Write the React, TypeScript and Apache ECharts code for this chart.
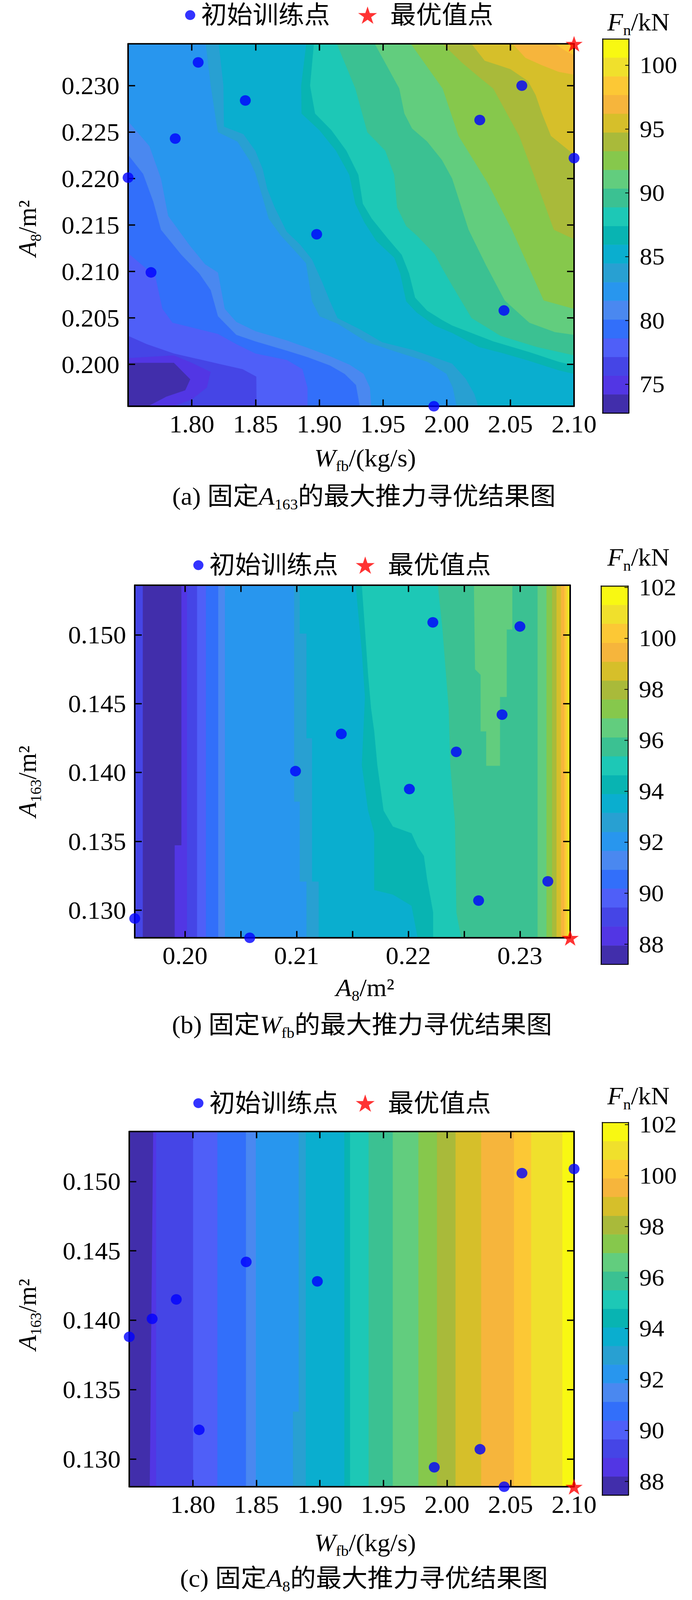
import React, { useEffect, useRef } from 'react';
import * as echarts from 'echarts';

// ---------------- data ----------------
const W_RANGE = [1.75, 2.1];
const A8_RANGE = [0.1955, 0.2345];
const A163_RANGE = [0.128, 0.1536];

const wTicks = [1.8, 1.85, 1.9, 1.95, 2.0, 2.05, 2.1];
const a8Ticks = [0.2, 0.205, 0.21, 0.215, 0.22, 0.225, 0.23];
const a8LabelsB = [0.2, 0.21, 0.22, 0.23];
const a163Ticks = [0.13, 0.135, 0.14, 0.145, 0.15];
const cbarTicksA = [75, 80, 85, 90, 95, 100];
const cbarTicksB = [88, 90, 92, 94, 96, 98, 100, 102];
const cbarTicksC = [88, 90, 92, 94, 96, 98, 100, 102];

// training points (W_fb, A8, A163) and optimum
const trainW = [1.805, 1.842, 1.787, 1.75, 1.898, 1.768, 1.99, 2.026, 2.059, 2.1, 2.045];
const trainA8 = [0.2325, 0.2284, 0.2243, 0.2201, 0.214, 0.2099, 0.1955, 0.2263, 0.23, 0.2222, 0.2058];
const trainA163 = [0.1321, 0.1442, 0.1415, 0.1388, 0.1428, 0.1401, 0.1294, 0.1307, 0.1506, 0.1509, 0.128];
const optW = 2.1;
const optA8 = 0.2345;
const optA163 = 0.128;

// contour levels (kN)
const levelsA = [72.74, 74.21, 75.67, 77.14, 78.6, 80.07, 81.54, 83.0, 84.47, 85.94, 87.4, 88.87, 90.34, 91.8, 93.27, 94.73, 96.2, 97.67, 99.13, 100.6, 102.06];
const levelsB = [87.21, 87.95, 88.69, 89.44, 90.18, 90.92, 91.66, 92.4, 93.15, 93.89, 94.63, 95.37, 96.11, 96.86, 97.6, 98.34, 99.08, 99.82, 100.57, 101.31, 102.05];
const levelsC = [87.46, 88.19, 88.92, 89.65, 90.38, 91.12, 91.85, 92.58, 93.31, 94.04, 94.77, 95.5, 96.23, 96.96, 97.69, 98.42, 99.16, 99.89, 100.62, 101.35, 102.08];

// contour lines of panel (a): line k separates band k from band k+1 ([W_fb, A8])
const contourA = [
  [[1.75, 0.2002], [1.786, 0.2002], [1.799, 0.1984], [1.795, 0.1972], [1.78, 0.1965], [1.766, 0.1955]],
  [[1.75, 0.2007], [1.786, 0.201], [1.8, 0.2002], [1.815, 0.1992], [1.812, 0.1975], [1.8, 0.1962], [1.786, 0.1955]],
  [[1.75, 0.2031], [1.7647, 0.2022], [1.786, 0.2012], [1.805, 0.2006], [1.8207, 0.2001], [1.84, 0.1995], [1.8508, 0.1987], [1.851, 0.1955]],
  [[1.75, 0.212], [1.7715, 0.2095], [1.7771, 0.206], [1.785, 0.2045], [1.8, 0.204], [1.8207, 0.2033], [1.835, 0.2022], [1.85, 0.2012], [1.8746, 0.2005], [1.887, 0.1995], [1.891, 0.1975], [1.891, 0.1955]],
  [[1.75, 0.2226], [1.762, 0.2205], [1.77, 0.2175], [1.776, 0.2145], [1.792, 0.2118], [1.806, 0.2098], [1.815, 0.208], [1.8207, 0.2052], [1.835, 0.2032], [1.85, 0.2025], [1.8746, 0.2015], [1.891, 0.2008], [1.9086, 0.1999], [1.92, 0.199], [1.929, 0.1978], [1.932, 0.1955]],
  [[1.75, 0.2262], [1.7669, 0.2235], [1.776, 0.22], [1.7816, 0.216], [1.7986, 0.2128], [1.8105, 0.2108], [1.8207, 0.2099], [1.826, 0.206], [1.835, 0.2046], [1.85, 0.2036], [1.8746, 0.2026], [1.891, 0.2018], [1.9086, 0.2009], [1.9238, 0.2], [1.935, 0.199], [1.94, 0.1975], [1.941, 0.1955]],
  [[1.8111, 0.2345], [1.815, 0.23], [1.819, 0.2264], [1.8207, 0.225], [1.8359, 0.224], [1.8453, 0.222], [1.85, 0.2206], [1.8559, 0.2179], [1.8605, 0.2157], [1.8699, 0.2139], [1.8793, 0.2125], [1.8898, 0.2109], [1.8945, 0.2068], [1.9004, 0.2052], [1.9145, 0.2044], [1.9379, 0.2024], [1.9555, 0.2016], [1.985, 0.2003], [2.0, 0.199], [2.005, 0.1975], [2.008, 0.1955]],
  [[1.8213, 0.2345], [1.825, 0.23], [1.8254, 0.2256], [1.8406, 0.2248], [1.85, 0.223], [1.8559, 0.221], [1.8594, 0.2189], [1.8652, 0.2169], [1.8746, 0.2143], [1.8852, 0.2129], [1.8945, 0.2113], [1.9027, 0.2088], [1.9086, 0.2068], [1.9145, 0.205], [1.932, 0.2038], [1.9496, 0.2024], [1.9731, 0.2016], [2.0045, 0.2001], [2.015, 0.1985], [2.022, 0.1968], [2.025, 0.1955]],
  [[1.89, 0.2345], [1.886, 0.23], [1.8863, 0.227], [1.9004, 0.2252], [1.9133, 0.223], [1.9238, 0.2204], [1.9285, 0.2173], [1.9356, 0.2153], [1.9449, 0.2133], [1.959, 0.2115], [1.9637, 0.2098], [1.9684, 0.2068], [1.9766, 0.2056], [1.9906, 0.2042], [2.0045, 0.2034], [2.0253, 0.2019], [2.045, 0.2012], [2.065, 0.2004], [2.0877, 0.1994], [2.1, 0.199]],
  [[1.896, 0.2345], [1.893, 0.23], [1.8969, 0.227], [1.9098, 0.2252], [1.9215, 0.223], [1.9309, 0.2204], [1.9344, 0.2173], [1.9414, 0.2157], [1.9531, 0.2137], [1.9649, 0.2118], [1.9707, 0.2098], [1.9754, 0.2072], [1.9848, 0.2058], [1.9965, 0.2048], [2.0045, 0.2042], [2.0367, 0.2025], [2.066, 0.2013], [2.088, 0.2003], [2.1, 0.1999]],
  [[1.914, 0.2345], [1.9285, 0.2297], [1.9379, 0.225], [1.952, 0.223], [1.959, 0.2204], [1.9613, 0.2169], [1.9684, 0.2149], [1.9766, 0.2139], [1.9906, 0.2119], [1.9965, 0.2104], [2.0045, 0.2085], [2.0197, 0.205], [2.0423, 0.2031], [2.0707, 0.2019], [2.1, 0.201]],
  [[1.9438, 0.2345], [1.963, 0.2297], [1.967, 0.227], [1.973, 0.2254], [1.9848, 0.224], [1.9965, 0.222], [2.0045, 0.22], [2.0174, 0.2145], [2.031, 0.2107], [2.0457, 0.2069], [2.065, 0.2045], [2.085, 0.2035], [2.1, 0.2032]],
  [[1.9721, 0.2345], [1.997, 0.2297], [2.0095, 0.2246], [2.0321, 0.2196], [2.0514, 0.2145], [2.0763, 0.2069], [2.1, 0.206]],
  [[1.997, 0.2345], [2.012, 0.2325], [2.025, 0.231], [2.0367, 0.2297], [2.0571, 0.2246], [2.0707, 0.2196], [2.0843, 0.2145], [2.1, 0.2135]],
  [[2.0197, 0.2345], [2.03, 0.2327], [2.05, 0.2318], [2.064, 0.2305], [2.07, 0.229], [2.075, 0.227], [2.082, 0.2246], [2.1, 0.2226]],
  [[2.052, 0.2345], [2.062, 0.233], [2.075, 0.2322], [2.088, 0.2315], [2.1, 0.2312]],
  [[2.085, 0.2345], [2.093, 0.2338], [2.1, 0.2333]],
];

// contour lines of panel (b) ([A8, A163]), top to bottom
const contourB = [
  [[0.1997, 0.1536], [0.1997, 0.1347], [0.1991, 0.1347], [0.1991, 0.128]],
  [[0.2002, 0.1536], [0.2002, 0.128]],
  [[0.2011, 0.1536], [0.2011, 0.128]],
  [[0.2019, 0.1536], [0.2019, 0.128]],
  [[0.203, 0.1536], [0.203, 0.128]],
  [[0.2036, 0.1536], [0.2036, 0.128]],
  [[0.2098, 0.1536], [0.2098, 0.1379], [0.2103, 0.1379], [0.2103, 0.1321], [0.2109, 0.1321], [0.2109, 0.128]],
  [[0.2103, 0.1536], [0.2103, 0.1501], [0.2109, 0.1501], [0.2109, 0.1425], [0.2114, 0.1425], [0.2114, 0.1321], [0.212, 0.1321], [0.212, 0.128]],
  [[0.21531, 0.1536], [0.21586, 0.14877], [0.21614, 0.14547], [0.21586, 0.14054], [0.21642, 0.13724], [0.21697, 0.1356], [0.21697, 0.13148], [0.21864, 0.13115], [0.22031, 0.13033], [0.22086, 0.128]],
  [[0.21586, 0.1536], [0.21614, 0.15041], [0.21642, 0.14712], [0.21669, 0.14465], [0.21697, 0.143], [0.21725, 0.14054], [0.21753, 0.13889], [0.21781, 0.13724], [0.21864, 0.13609], [0.22031, 0.1356], [0.22086, 0.13461], [0.22142, 0.13395], [0.2217, 0.1323], [0.22225, 0.12984], [0.22225, 0.128]],
  [[0.22267, 0.1536], [0.22308, 0.15041], [0.22364, 0.14465], [0.22378, 0.14054], [0.2242, 0.13642], [0.22433, 0.12984], [0.22475, 0.128]],
  [[0.2316, 0.1536], [0.2316, 0.128]],
  [[0.2324, 0.1536], [0.2324, 0.128]],
  [[0.2329, 0.1536], [0.2329, 0.128]],
  [[0.2333, 0.1536], [0.2333, 0.128]],
  [[0.2337, 0.1536], [0.2337, 0.128]],
  [[0.234, 0.1536], [0.234, 0.128]],
  [[0.2342, 0.1536], [0.2342, 0.128]],
  [[0.2344, 0.1536], [0.2344, 0.128]],
];
// local patches of panel (b)
const islandsB = [
  { band: 2, points: [[0.1955, 0.1536], [0.1962, 0.1536], [0.1962, 0.128], [0.1955, 0.128]] },
  { band: 12, points: [[0.2259, 0.1536], [0.226, 0.1475], [0.2265, 0.1471], [0.2265, 0.143], [0.227, 0.143], [0.227, 0.1405], [0.2282, 0.1405], [0.2282, 0.1455], [0.2288, 0.1455], [0.2288, 0.1504], [0.2293, 0.1504], [0.2293, 0.1536]] },
];

// contour lines of panel (c) ([W_fb, A163]), top to bottom
const contourC = [
  [[1.769, 0.1536], [1.7663, 0.128]],
  [[1.7713, 0.1536], [1.7713, 0.128]],
  [[1.8004, 0.1536], [1.8004, 0.128]],
  [[1.8195, 0.1536], [1.8195, 0.128]],
  [[1.842, 0.1536], [1.842, 0.128]],
  [[1.8498, 0.1536], [1.8498, 0.128]],
  [[1.8835, 0.1536], [1.8835, 0.1334], [1.879, 0.1334], [1.879, 0.128]],
  [[1.8891, 0.1536], [1.8891, 0.128]],
  [[1.9194, 0.1536], [1.9194, 0.128]],
  [[1.9239, 0.1536], [1.9239, 0.128]],
  [[1.9385, 0.1536], [1.9385, 0.128]],
  [[1.9575, 0.1536], [1.9575, 0.128]],
  [[1.9777, 0.1536], [1.9777, 0.128]],
  [[1.9923, 0.1536], [1.9923, 0.128]],
  [[2.0069, 0.1536], [2.0069, 0.128]],
  [[2.0271, 0.1536], [2.0271, 0.128]],
  [[2.0529, 0.1536], [2.0529, 0.128]],
  [[2.0664, 0.1536], [2.0664, 0.128]],
  [[2.091, 0.1536], [2.091, 0.128]],
];

// ---------------- style ----------------
const BAND_COLORS = [
  '#412eab', '#5236e4', '#4545e6', '#4f5ff8', '#326ffa', '#4a88f0', '#2896ee', '#28a0d2', '#0aaecf', '#08b4b2',
  '#1dc8b6', '#3bc192', '#62cd7e', '#86c84c', '#a9ba3a', '#d6bf2a', '#f6b53c', '#fcc835', '#f0e02c', '#f8f812',
];
const SERIF = "'Liberation Serif', 'Times New Roman', serif";
const MIX = "'Liberation Serif', 'Noto Sans CJK SC', serif";
const STAR = 'path://M50,0L61.2,34.5L97.6,34.5L68.2,55.9L79.4,90.5L50,69.1L20.6,90.5L31.8,55.9L2.4,34.5L38.8,34.5Z';

// the photographed area is 4096 px high: the whole figure is compressed vertically to fit
const PAGE_W = 1772;
const PAGE_H = 4238;
const FIT_Y = 4096 / 4238;

const RICH = {
  n: { fontSize: 66, fontFamily: MIX, lineHeight: 84, verticalAlign: 'middle', color: '#000' },
  i: { fontSize: 66, fontFamily: SERIF, fontStyle: 'italic', lineHeight: 84, verticalAlign: 'middle', color: '#000' },
  s: { fontSize: 40, fontFamily: SERIF, lineHeight: 40, verticalAlign: 'bottom', color: '#000' },
};

function regionPolygon(line, xr, yr) {
  const pts = line.slice();
  const first = line[0];
  const last = line[line.length - 1];
  const eps = 1e-9;
  if (last[1] <= yr[0] + eps && last[0] < xr[1] - eps) pts.push([xr[1], yr[0]]);
  pts.push([xr[1], yr[1]]);
  if (first[0] <= xr[0] + eps && first[1] < yr[1] - eps) pts.push([xr[0], yr[1]]);
  return pts;
}

function buildPatches(lines, islands, xr, yr) {
  const patches = [{ band: 0, points: [[xr[0], yr[0]], [xr[1], yr[0]], [xr[1], yr[1]], [xr[0], yr[1]]] }];
  lines.forEach((l, k) => patches.push({ band: k + 1, points: regionPolygon(l, xr, yr) }));
  islands.forEach((p) => patches.push(p));
  return patches;
}

function buildOption() {
  const panels = [
    {
      grid: { left: 328, top: 116, width: 1142, height: 960 },
      cbar: { left: 1543, top: 103, width: 67, height: 991 },
      xr: W_RANGE, yr: A8_RANGE,
      xTicks: wTicks, xLabels: wTicks, xDigits: 2,
      yTicks: a8Ticks, yLabels: a8Ticks, yDigits: 3,
      levels: levelsA, cbarTicks: cbarTicksA,
      patches: buildPatches(contourA, [], W_RANGE, A8_RANGE),
      train: trainW.map((w, i) => [w, trainA8[i]]),
      opt: [optW, optA8],
    },
    {
      grid: { left: 345, top: 1550, width: 1115, height: 934 },
      cbar: { left: 1539, top: 1552, width: 69, height: 1002 },
      xr: A8_RANGE, yr: A163_RANGE,
      xTicks: a8Ticks, xLabels: a8LabelsB, xDigits: 2,
      yTicks: a163Ticks, yLabels: a163Ticks, yDigits: 3,
      levels: levelsB, cbarTicks: cbarTicksB,
      patches: buildPatches(contourB, islandsB, A8_RANGE, A163_RANGE),
      train: trainA8.map((a, i) => [a, trainA163[i]]),
      opt: [optA8, optA163],
    },
    {
      grid: { left: 331, top: 2997, width: 1139, height: 941 },
      cbar: { left: 1542, top: 2973, width: 67, height: 987 },
      xr: W_RANGE, yr: A163_RANGE,
      xTicks: wTicks, xLabels: wTicks, xDigits: 2,
      yTicks: a163Ticks, yLabels: a163Ticks, yDigits: 3,
      levels: levelsC, cbarTicks: cbarTicksC,
      patches: buildPatches(contourC, [], W_RANGE, A163_RANGE),
      train: trainW.map((w, i) => [w, trainA163[i]]),
      opt: [optW, optA163],
    },
  ];

  const grid = [];
  const xAxis = [];
  const yAxis = [];
  const series = [];

  const line = (w) => ({ show: true, onZero: false, lineStyle: { color: '#000', width: w } });
  const ticks = (vals, len, w) => ({ show: true, inside: true, length: len, lineStyle: { color: '#000', width: w }, customValues: vals });
  const noTick = { show: false };
  const noLabel = { show: false };
  const noSplit = { show: false };
  const lab = (vals, digits, margin, size) => ({
    show: true, customValues: vals, margin, fontSize: size, fontFamily: SERIF, color: '#000',
    formatter: (v) => Number(v).toFixed(digits),
  });

  panels.forEach((p, pi) => {
    const gMain = pi * 2;
    const gBar = pi * 2 + 1;
    grid.push({ ...p.grid, containLabel: false });
    grid.push({ ...p.cbar, containLabel: false });
    const base = pi * 4;
    xAxis.push({ type: 'value', gridIndex: gMain, position: 'bottom', min: p.xr[0], max: p.xr[1], z: 10,
      axisLine: line(4), axisTick: ticks(p.xTicks, 18, 3.5), axisLabel: lab(p.xLabels, p.xDigits, 14, 66), splitLine: noSplit });
    xAxis.push({ type: 'value', gridIndex: gMain, position: 'top', min: p.xr[0], max: p.xr[1], z: 10,
      axisLine: line(4), axisTick: ticks(p.xTicks, 18, 3.5), axisLabel: noLabel, splitLine: noSplit });
    xAxis.push({ type: 'value', gridIndex: gBar, position: 'bottom', min: 0, max: 1, z: 10,
      axisLine: line(2.5), axisTick: noTick, axisLabel: noLabel, splitLine: noSplit });
    xAxis.push({ type: 'value', gridIndex: gBar, position: 'top', min: 0, max: 1, z: 10,
      axisLine: line(2.5), axisTick: noTick, axisLabel: noLabel, splitLine: noSplit });
    yAxis.push({ type: 'value', gridIndex: gMain, position: 'left', min: p.yr[0], max: p.yr[1], z: 10,
      axisLine: line(4), axisTick: ticks(p.yTicks, 18, 3.5), axisLabel: lab(p.yLabels, p.yDigits, 22, 66), splitLine: noSplit });
    yAxis.push({ type: 'value', gridIndex: gMain, position: 'right', min: p.yr[0], max: p.yr[1], z: 10,
      axisLine: line(4), axisTick: ticks(p.yTicks, 18, 3.5), axisLabel: noLabel, splitLine: noSplit });
    const lv = p.levels;
    yAxis.push({ type: 'value', gridIndex: gBar, position: 'left', min: lv[0], max: lv[lv.length - 1], z: 10,
      axisLine: line(2.5), axisTick: noTick, axisLabel: noLabel, splitLine: noSplit });
    yAxis.push({ type: 'value', gridIndex: gBar, position: 'right', min: lv[0], max: lv[lv.length - 1], z: 10,
      axisLine: line(2.5), axisTick: ticks(p.cbarTicks, 9, 2), axisLabel: lab(p.cbarTicks, 0, 28, 64), splitLine: noSplit });

    const patches = p.patches;
    series.push({
      type: 'custom', xAxisIndex: base, yAxisIndex: base, z: 1, silent: true, clip: true,
      data: patches.map((q, i) => [q.points[0][0], q.points[0][1], i]),
      renderItem: (params, api) => {
        const q = patches[params.dataIndex];
        const pts = q.points.map((pt) => api.coord(pt));
        const c = BAND_COLORS[q.band];
        return { type: 'polygon', shape: { points: pts }, style: { fill: c, stroke: c, lineWidth: 1.2 } };
      },
    });
    series.push({
      type: 'custom', xAxisIndex: base + 2, yAxisIndex: base + 2, z: 1, silent: true,
      data: lv.slice(0, -1).map((l, i) => [0.5, l, i]),
      renderItem: (params, api) => {
        const i = params.dataIndex;
        const p0 = api.coord([0, lv[i]]);
        const p1 = api.coord([1, lv[i + 1]]);
        const c = BAND_COLORS[i];
        return { type: 'rect', shape: { x: p0[0], y: p1[1], width: p1[0] - p0[0], height: p0[1] - p1[1] },
          style: { fill: c, stroke: c, lineWidth: 0.8 } };
      },
    });
    series.push({
      type: 'scatter', name: '初始训练点', xAxisIndex: base, yAxisIndex: base, z: 20, clip: false, silent: true,
      symbol: 'circle', symbolSize: 28, itemStyle: { color: '#0000ff' }, data: p.train,
    });
    series.push({
      type: 'scatter', name: '最优值点', xAxisIndex: base, yAxisIndex: base, z: 21, clip: false, silent: true,
      symbol: STAR, symbolKeepAspect: true, symbolSize: 44, itemStyle: { color: '#ff0000' }, data: [p.opt],
    });
  });

  const legText = { fontSize: 66, fontFamily: MIX, color: '#000' };
  const legDot = (left, top) => ({ left, top, padding: 0, itemWidth: 46, itemHeight: 26, icon: 'circle',
    data: ['初始训练点'], textStyle: legText, selectedMode: false });
  const legStar = (left, top) => ({ left, top, padding: 0, itemWidth: 106, itemHeight: 46, icon: STAR,
    data: ['最优值点'], textStyle: legText, selectedMode: false });
  const legend = [legDot(474, 7), legStar(917, 7), legDot(495, 1464), legStar(911, 1464), legDot(495, 2889), legStar(911, 2889)];

  const txt = (x, y, text, rotation = 0) => ({
    type: 'text', x, y, rotation, silent: true, z: 30,
    style: { text, rich: RICH, align: 'center', verticalAlign: 'middle', fill: '#000' },
  });
  const graphic = [
    txt(935, 1213, '{i|W}{s|fb}{n|/(kg/s)}'),
    txt(935, 2616, '{i|A}{s|8}{n|/m²}'),
    txt(935, 4086, '{i|W}{s|fb}{n|/(kg/s)}'),
    txt(70, 605, '{i|A}{s|8}{n|/m²}', Math.PI / 2),
    txt(70, 2070, '{i|A}{s|163}{n|/m²}', Math.PI / 2),
    txt(70, 3482, '{i|A}{s|163}{n|/m²}', Math.PI / 2),
    txt(1635, 58, '{i|F}{s|n}{n|/kN}'),
    txt(1635, 1476, '{i|F}{s|n}{n|/kN}'),
    txt(1635, 2903, '{i|F}{s|n}{n|/kN}'),
    txt(932, 1314, '{n|(a) 固定}{i|A}{s|163}{n|的最大推力寻优结果图}'),
    txt(927, 2714, '{n|(b) 固定}{i|W}{s|fb}{n|的最大推力寻优结果图}'),
    txt(932, 4180, '{n|(c) 固定}{i|A}{s|8}{n|的最大推力寻优结果图}'),
  ];

  return { animation: false, backgroundColor: '#ffffff', grid, xAxis, yAxis, series, legend, graphic };
}

export default function App() {
  const ref = useRef(null);
  useEffect(() => {
    const chart = echarts.init(ref.current, undefined, { renderer: 'svg', width: PAGE_W, height: PAGE_H });
    chart.setOption(buildOption());
    return () => chart.dispose();
  }, []);
  return (
    <div
      ref={ref}
      style={{
        position: 'absolute', left: 0, top: 0, width: PAGE_W, height: PAGE_H, background: '#fff',
        transform: `scaleY(${FIT_Y})`, transformOrigin: '0 0',
      }}
    />
  );
}
